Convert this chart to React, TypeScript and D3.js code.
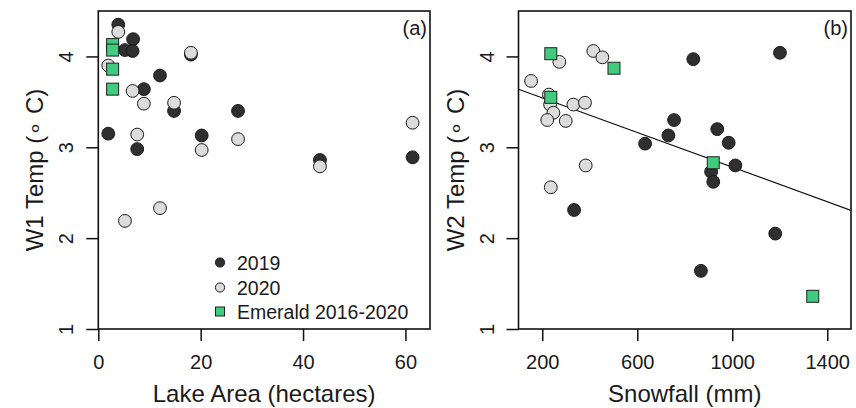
import React, { useEffect, useRef } from "react";
import * as d3 from "d3";

const W = 856, H = 408;
const FONT = "'Liberation Sans', Arial, sans-serif";

// panel (a): lake area (ha) vs W1 temp
const area2019 = [3.9, 6.8, 5.2, 6.7, 18.1, 12.05, 8.9, 14.8, 27.3, 1.95, 20.2, 7.6, 43.3, 61.4];
const w1_2019 = [4.35, 4.19, 4.07, 4.06, 4.02, 3.79, 3.64, 3.40, 3.40, 3.15, 3.13, 2.98, 2.86, 2.89];
const area2020 = [3.9, 18.1, 1.95, 6.7, 8.9, 14.8, 7.6, 27.3, 20.2, 43.3, 61.4, 12.05, 5.2];
const w1_2020 = [4.27, 4.04, 3.90, 3.62, 3.48, 3.49, 3.14, 3.09, 2.97, 2.79, 3.27, 2.33, 2.19];
const areaEm = [2.8, 2.8, 2.8, 2.8];
const w1Em = [4.13, 4.07, 3.86, 3.64];

// panel (b): snowfall (mm) vs W2 temp
const snow2019 = [836, 1201, 755, 731, 633, 937, 985, 1013, 911, 920, 334, 1181, 868];
const w2_2019 = [3.97, 4.04, 3.30, 3.13, 3.04, 3.20, 3.05, 2.80, 2.73, 2.62, 2.31, 2.05, 1.64];
const snow2020 = [415, 453, 272, 153, 228, 233, 247, 221, 299, 331, 380, 383, 236];
const w2_2020 = [4.06, 3.99, 3.94, 3.73, 3.58, 3.47, 3.38, 3.30, 3.29, 3.47, 3.49, 2.80, 2.56];
const snowEm = [236, 502, 236, 920, 1339];
const w2Em = [4.03, 3.87, 3.55, 2.83, 1.36];

// fitted line in (b)
const fitIntercept = 3.735;
const fitSlope = -0.000953;

const xTicksA = [0, 20, 40, 60];
const xTicksB = [200, 600, 1000, 1400];
const yTicks = [1, 2, 3, 4];
const legendLabels = ["2019", "2020", "Emerald 2016-2020"];

const DARK = "#2f2f2f", LIGHT = "#dcdcdc", GREEN = "#40cb7e";
const TOP = 11, BOTTOM = 329;
const fmt = d3.format("d");

function Panel({ left, right, xDomain, xTicks, xLabel, yLabel, tag, sets, fit, legend }: any) {
  const ref = useRef<SVGGElement>(null);

  useEffect(() => {
    const g = d3.select(ref.current);
    g.selectAll("*").remove();

    const x = d3.scaleLinear().domain(xDomain).range([left, right]);
    const y = d3.scaleLinear().domain([1, 4.5]).range([BOTTOM, TOP]);

    // x axis
    const xa = g.append("g")
      .attr("transform", `translate(0,${BOTTOM})`)
      .call(d3.axisBottom(x).tickValues(xTicks).tickFormat(fmt as any).tickSize(12).tickPadding(14).tickSizeOuter(0));
    xa.select(".domain").remove();
    xa.attr("font-size", 20).attr("font-family", FONT);
    xa.selectAll("line").attr("stroke", "#111").attr("stroke-width", 1.5);
    xa.selectAll("text").attr("fill", "#1a1a1a");

    // y axis, labels rotated like base R
    const ya = g.append("g")
      .attr("transform", `translate(${left},0)`)
      .call(d3.axisLeft(y).tickValues(yTicks).tickFormat(fmt as any).tickSize(12).tickSizeOuter(0));
    ya.select(".domain").remove();
    ya.attr("font-size", 20).attr("font-family", FONT);
    ya.selectAll("line").attr("stroke", "#111").attr("stroke-width", 1.5);
    ya.selectAll("text")
      .attr("x", 0).attr("y", 0).attr("dy", 0)
      .attr("text-anchor", "middle")
      .attr("fill", "#1a1a1a")
      .attr("transform", "translate(-25,0) rotate(-90)");

    // regression line
    if (fit) {
      const clipId = "clip" + tag;
      g.append("clipPath").attr("id", clipId)
        .append("rect").attr("x", left).attr("y", TOP)
        .attr("width", right - left).attr("height", BOTTOM - TOP);
      const line = d3.line<number>().x(d => x(d)).y(d => y(fit[0] + fit[1] * d));
      g.append("path")
        .datum(xDomain)
        .attr("d", line)
        .attr("clip-path", `url(#${clipId})`)
        .attr("fill", "none").attr("stroke", "#111").attr("stroke-width", 1.1);
    }

    // points: 2019, 2020, then Emerald squares on top
    sets.forEach((s: any) => {
      const pts = s.xs.map((v: number, i: number) => [v, s.ys[i]]);
      if (s.shape === "square") {
        g.append("g").selectAll("rect").data(pts).enter().append("rect")
          .attr("x", (d: any) => x(d[0]) - 6).attr("y", (d: any) => y(d[1]) - 6)
          .attr("width", 12).attr("height", 12)
          .attr("fill", s.fill).attr("stroke", "#222").attr("stroke-width", 1);
      } else {
        g.append("g").selectAll("circle").data(pts).enter().append("circle")
          .attr("cx", (d: any) => x(d[0])).attr("cy", (d: any) => y(d[1]))
          .attr("r", 6.4)
          .attr("fill", s.fill).attr("stroke", "#1a1a1a").attr("stroke-width", 1);
      }
    });

    // box
    g.append("rect")
      .attr("x", left).attr("y", TOP)
      .attr("width", right - left).attr("height", BOTTOM - TOP)
      .attr("fill", "none").attr("stroke", "#111").attr("stroke-width", 1.6);

    // panel tag
    g.append("text")
      .attr("x", right - 3).attr("y", 35)
      .attr("text-anchor", "end")
      .attr("font-family", FONT).attr("font-size", 20).attr("fill", "#1a1a1a")
      .text(`(${tag})`);

    // axis titles
    g.append("text")
      .attr("x", (left + right) / 2).attr("y", 401.5)
      .attr("text-anchor", "middle")
      .attr("font-family", FONT).attr("font-size", 24).attr("fill", "#1a1a1a")
      .text(xLabel);
    g.append("text")
      .attr("transform", `translate(${left - 55},${(TOP + BOTTOM) / 2}) rotate(-90)`)
      .attr("text-anchor", "middle")
      .attr("font-family", FONT).attr("font-size", 24).attr("fill", "#1a1a1a")
      .text(yLabel);

    if (legend) {
      const rows = [262.5, 287.5, 311.5];
      const lg = g.append("g");
      rows.forEach((ry, i) => {
        const s = sets[i];
        if (s.shape === "square") {
          lg.append("rect").attr("x", 220 - 4.5).attr("y", ry - 4.5)
            .attr("width", 9).attr("height", 9)
            .attr("fill", s.fill).attr("stroke", "#222").attr("stroke-width", 1);
        } else {
          lg.append("circle").attr("cx", 220).attr("cy", ry).attr("r", 4.6)
            .attr("fill", s.fill).attr("stroke", "#1a1a1a").attr("stroke-width", 1);
        }
        lg.append("text")
          .attr("x", 237).attr("y", ry + 7)
          .attr("font-family", FONT).attr("font-size", 19.5).attr("fill", "#1a1a1a")
          .text(legendLabels[i]);
      });
    }
  }, []);

  return <g ref={ref} />;
}

export default function App() {
  const setsA = [
    { xs: area2019, ys: w1_2019, fill: DARK, shape: "circle" },
    { xs: area2020, ys: w1_2020, fill: LIGHT, shape: "circle" },
    { xs: areaEm, ys: w1Em, fill: GREEN, shape: "square" },
  ];
  const setsB = [
    { xs: snow2019, ys: w2_2019, fill: DARK, shape: "circle" },
    { xs: snow2020, ys: w2_2020, fill: LIGHT, shape: "circle" },
    { xs: snowEm, ys: w2Em, fill: GREEN, shape: "square" },
  ];

  return (
    <div style={{ position: "absolute", left: 0, top: 0 }}>
      <svg width={W} height={H} style={{ display: "block", background: "#fff" }}>
        <Panel left={98.3} right={430} xDomain={[0, 64.8]} xTicks={xTicksA}
          xLabel="Lake Area (hectares)" yLabel="W1 Temp (∘ C)" tag="a"
          sets={setsA} legend />
        <Panel left={518.5} right={851} xDomain={[100, 1500]} xTicks={xTicksB}
          xLabel="Snowfall (mm)" yLabel="W2 Temp (∘ C)" tag="b"
          sets={setsB} fit={[fitIntercept, fitSlope]} />
      </svg>
    </div>
  );
}
